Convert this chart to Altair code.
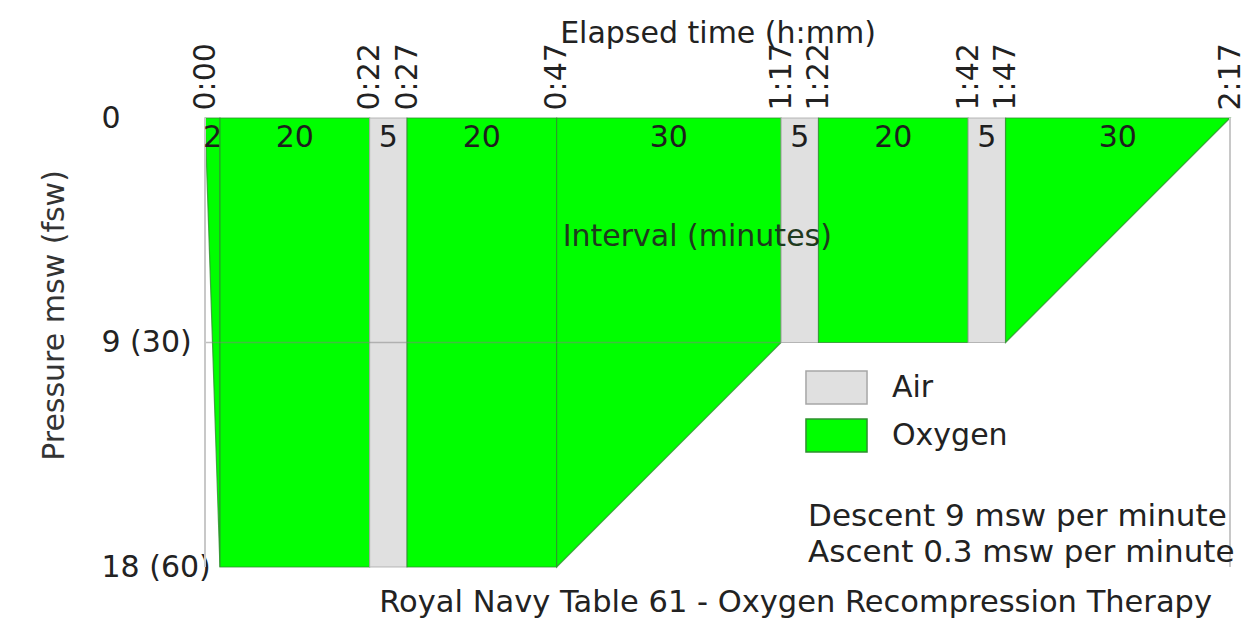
import altair as alt
import pandas as pd

# ---- data ----
seg_start = [0, 2, 22, 27, 47, 77, 82, 102, 107]
seg_end = [2, 22, 27, 47, 77, 82, 102, 107, 137]
seg_depth_start = [0, 18, 18, 18, 18, 9, 9, 9, 9]
seg_depth_end = [18, 18, 18, 18, 9, 9, 9, 9, 0]
seg_gas = ["Oxygen", "Oxygen", "Air", "Oxygen", "Oxygen", "Air", "Oxygen", "Air", "Oxygen"]
seg_label = ["2", "20", "5", "20", "30", "5", "20", "5", "30"]

time_ticks = [0, 22, 27, 47, 77, 82, 102, 107, 137]
depth_ticks = [0, 9, 18]
depth_tick_labels = ["0", "9 (30)", "18 (60)"]

gas_names = ["Air", "Oxygen"]
gas_fill = ["#e0e0e0", "#00ff00"]
gas_stroke = ["#a6a6a6", "#2f8f2f"]

grid_depth = [9]
grid_from = [0]
grid_to = [77]
frame_times = [0, 137]

note_text = ["Interval (minutes)", "Descent 9 msw per minute", "Ascent 0.3 msw per minute"]
note_time = [65.8, 80.6, 80.6]
note_depth = [4.77, 16.0, 17.45]
note_align = ["center", "left", "left"]

FONT = "DejaVu Sans"
FS = 30

# ---- tables ----
rows = []
for i in range(len(seg_start)):
    rows.append({"seg": i, "t": seg_start[i], "depth": seg_depth_start[i], "gas": seg_gas[i]})
    rows.append({"seg": i, "t": seg_end[i], "depth": seg_depth_end[i], "gas": seg_gas[i]})
area_df = pd.DataFrame(rows)

lab_df = pd.DataFrame({
    "t": [(s + e) / 2 for s, e in zip(seg_start, seg_end)],
    "depth": [0] * len(seg_label),
    "label": seg_label,
})
grid_df = pd.DataFrame({"t": grid_from, "t2": grid_to, "depth": grid_depth})
frame_df = pd.DataFrame({"t": frame_times, "depth": [0] * len(frame_times), "d1": [18] * len(frame_times)})
note_df = pd.DataFrame({"text": note_text, "t": note_time, "depth": note_depth, "align": note_align})

# label expression for depth axis
expr = "''"
for v, l in zip(reversed(depth_ticks), reversed(depth_tick_labels)):
    expr = f"datum.value == {v} ? '{l}' : ({expr})"

xscale = alt.Scale(domain=[0, 137], nice=False, zero=False)
yscale = alt.Scale(domain=[0, 18], nice=False, reverse=True)

x_axis = alt.Axis(
    orient="top", values=time_ticks,
    labelExpr="floor(datum.value/60) + ':' + (datum.value % 60 < 10 ? '0' : '') + (datum.value % 60)",
    labelAngle=270, labelAlign="left", labelBaseline="middle", labelFlush=False,
    labelOverlap=False, labelPadding=8, labelFontSize=FS, labelFont=FONT, labelColor="#222",
    ticks=False, tickSize=0, domain=False, grid=False,
    title="Elapsed time (h:mm)", titleFontSize=FS, titleFont=FONT, titleFontWeight="normal",
    titleColor="#222", titleBaseline="alphabetic", titleY=-76,
)
y_axis = alt.Axis(
    orient="left", values=depth_ticks, labelExpr=expr,
    labelAlign="left", labelBaseline="middle", labelPadding=104, labelFontSize=FS,
    labelFont=FONT, labelColor="#222", labelFlush=False, labelOverlap=False,
    ticks=False, tickSize=0, domain=False, grid=False,
    title="Pressure msw (fsw)", titleFontSize=FS, titleFont=FONT, titleFontWeight="normal",
    titleColor="#333", titleAngle=270, titleAlign="center", titleBaseline="middle",
    titleX=-151, titleY=197,
)


def X(field):
    return alt.X(field, type="quantitative", scale=xscale, axis=x_axis)


def Y(field):
    return alt.Y(field, type="quantitative", scale=yscale, axis=y_axis)


areas = alt.Chart(area_df).mark_area(strokeWidth=1.2, strokeOpacity=0.8, opacity=1).encode(
    x=X("t"),
    y=Y("depth"),
    y2=alt.datum(0),
    fill=alt.Fill("gas:N", scale=alt.Scale(domain=gas_names, range=gas_fill),
                  legend=alt.Legend(
                      orient="none", legendX=614, legendY=252, title=None, padding=0,
                      symbolType="M-1.85,-1H1.85V1H-1.85Z", symbolSize=1089,
                      symbolStrokeColor="#a0a0a0", symbolStrokeWidth=1.5, symbolOpacity=1,
                      labelFontSize=FS, labelFont=FONT, labelColor="#222",
                      labelOffset=38, rowPadding=9)),
    stroke=alt.Stroke("gas:N", scale=alt.Scale(domain=gas_names, range=gas_stroke), legend=None),
    detail="seg:N",
)

grid = alt.Chart(grid_df).mark_rule(color="#808080", strokeWidth=1.5, opacity=0.5).encode(
    x=X("t"),
    x2="t2:Q",
    y=Y("depth"),
)

frame = alt.Chart(frame_df).mark_rule(color="#c8c8c8", strokeWidth=2).encode(
    x=X("t"),
    y=Y("depth"),
    y2="d1:Q",
)

labels = alt.Chart(lab_df).mark_text(baseline="top", dy=5, fontSize=FS, font=FONT, color="#1e1e1e").encode(
    x=X("t"),
    y=Y("depth"),
    text="label:N",
)

notes_c = alt.Chart(note_df).transform_filter("datum.align == 'center'").mark_text(
    align="center", baseline="middle", fontSize=FS, font=FONT, color="#1e3a1e").encode(
    x=X("t"),
    y=Y("depth"),
    text="text:N",
)
notes_l = alt.Chart(note_df).transform_filter("datum.align == 'left'").mark_text(
    align="left", baseline="middle", fontSize=31, font=FONT, color="#222").encode(
    x=X("t"),
    y=Y("depth"),
    text="text:N",
)

chart = alt.layer(areas, grid, frame, labels, notes_c, notes_l).properties(
    width=1025, height=449,
    autosize=alt.AutoSizeParams(type="none"),
    padding={"left": 197, "top": 110, "right": 20, "bottom": 56},
    title=alt.TitleParams(
        "Royal Navy Table 61 - Oxygen Recompression Therapy",
        orient="bottom", anchor="end", frame="group", dx=-18, offset=6,
        fontSize=30.5, font=FONT, fontWeight="normal", color="#222", baseline="top",
    ),
).configure(font=FONT).configure_view(stroke=None)

chart.save("out.html", embed_options={"renderer": "svg", "actions": False})
